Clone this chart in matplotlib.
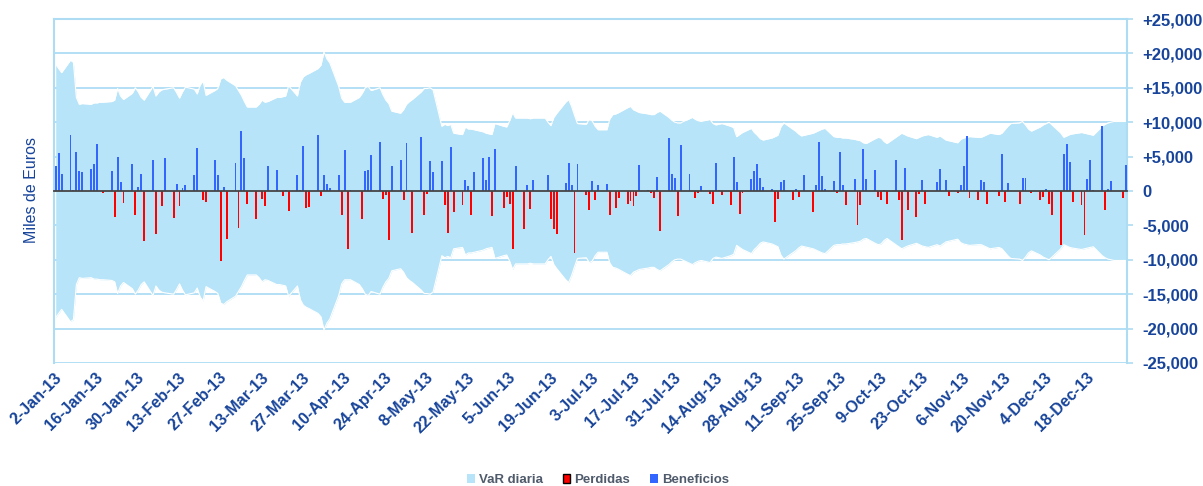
import matplotlib
matplotlib.use('Agg')
import matplotlib.pyplot as plt
import matplotlib.dates as mdates
from matplotlib.patches import Patch
from matplotlib.ticker import FuncFormatter
import numpy as np
import pandas as pd

plt.rcParams['font.family'] = ['Liberation Sans', 'DejaVu Sans']

# dias habiles de 2013 (eje de fechas, fines de semana sin barra)
fechas = pd.bdate_range('2013-01-02', '2013-12-31')
etiquetas = pd.date_range('2013-01-02', '2013-12-18', freq='14D')

# VaR diario (miles de euros), una fila = 2 semanas desde cada etiqueta
var_diaria = [
    18400, 17800, 17200, 19000, 18700, 13600, 12600, 12700, 12600, 12800,  # 2-Jan
    12800, 12900, 12900, 13000, 13200, 14900, 13800, 13300, 14200, 15000,  # 16-Jan
    14400, 13600, 13200, 15200, 13800, 14400, 14700, 14800, 15000, 14300,  # 30-Jan
    13500, 14400, 15100, 14800, 14100, 15400, 16000, 13900, 14600, 14900,  # 13-Feb
    16300, 16500, 16100, 15300, 14600, 13900, 13000, 12200, 12200, 12600,  # 27-Feb
    13200, 12900, 13000, 13600, 13600, 13700, 13800, 15300, 13800, 15800,  # 13-Mar
    16600, 16900, 17100, 17800, 18300, 20200, 19200, 18600, 15200, 13500,  # 27-Mar
    12900, 12900, 12900, 13600, 14200, 15000, 15200, 14600, 15000, 14000,  # 10-Apr
    13200, 12700, 11600, 11300, 11800, 12600, 13000, 13300, 14400, 14900,  # 24-Apr
    14900, 15000, 14700, 9400, 9700, 9500, 9700, 8400, 8200, 9300,  # 8-May
    9000, 9000, 8900, 8600, 8400, 8300, 8200, 9800, 9400, 9300,  # 22-May
    10200, 11400, 10600, 10600, 10600, 10500, 10600, 10600, 10600, 10000,  # 5-Jun
    9500, 10700, 11300, 12900, 13300, 12300, 11000, 9800, 9700, 10400,  # 19-Jun
    10200, 9400, 8900, 8900, 10500, 11100, 11200, 11400, 12100, 12300,  # 3-Jul
    11800, 11600, 11400, 11200, 11100, 11100, 11400, 11600, 10700, 10300,  # 17-Jul
    10000, 9900, 9900, 10500, 10700, 10400, 10200, 10100, 10400, 9800,  # 31-Jul
    9600, 9700, 9800, 9400, 9200, 7900, 8200, 8500, 9100, 8500,  # 14-Aug
    8100, 7600, 7400, 7700, 7900, 8100, 9300, 9900, 9000, 8700,  # 28-Aug
    8300, 8000, 8100, 8400, 8600, 8800, 9000, 9100, 7900, 7800,  # 11-Sep
    7800, 7700, 7700, 7500, 7400, 7300, 7000, 6900, 7600, 7800,  # 25-Sep
    7700, 7200, 6900, 7800, 8100, 8400, 8200, 8000, 7600, 7800,  # 9-Oct
    8000, 8100, 8200, 7800, 8000, 7700, 7400, 7300, 7000, 7500,  # 23-Oct
    7700, 7800, 7900, 7800, 7800, 8000, 8200, 8400, 8200, 8400,  # 6-Nov
    8900, 9400, 9800, 9900, 10100, 9600, 9000, 8700, 9300, 9600,  # 20-Nov
    9800, 10000, 9600, 8400, 7800, 8000, 8200, 8300, 8500, 8400,  # 4-Dec
    8300, 8200, 8100, 9400, 9700, 9900, 10000, 10100, 10100, 10100,  # 18-Dec
]

# resultado diario (miles de euros)
resultado = [
    3630, 5570, 2420, 8130, 150, 5660, 2900, 2760, 3240, 3920,
    6870, 0, -290, 2900, -3780, 4940, 1300, -1690, 3920, -3530,
    580, 2470, -7310, 4450, -6200, 0, -2130, 4840, -3870, 1020,
    -2130, 440, 870, 2320, 6240, 0, -1360, -1550, 4500, 2370,
    -10200, 580, -6920, 4070, -5320, 8760, 4840, -1840, -4070, 0,
    -1110, -2230, 3630, 3050, 0, -680, 200, -2950, 2320, 200,
    6490, -2420, -2320, 8130, -770, 2320, 1060, 480, 2370, -3530,
    6000, -8370, 190, 0, -4020, 2950, 3100, 5280, 7160, -1110,
    -630, -7160, 3680, 4500, -1260, 7020, 0, -6100, 7840, -3530,
    -480, 4400, 2810, 4400, -2080, -6100, 6440, -3100, -2080, 1650,
    770, -3440, 2810, 4840, 1650, 4990, -3680, 6150, -2420, -870,
    -1840, -8370, 3680, -5570, 920, -2570, 1650, 0, 0, 2370,
    -4020, -5470, -6290, 1210, 4110, 920, -9000, 3970, -630, -2710,
    1500, -1260, 920, 1060, -3530, 0, -2470, -1060, -1840, -1450,
    -2230, -770, 3820, 190, -290, -1060, 2080, -5860, 7740, 2520,
    1940, -3680, 6730, 2520, 0, -970, -290, 770, -480, -1840,
    4110, 190, -580, -1980, 4990, 1360, -3390, -290, 1790, 2950,
    3970, 1940, 630, 290, -4550, -1110, 1360, 1650, -1360, 290,
    -870, 0, 2370, -3100, 920, 7160, 2230, 340, 1500, -290,
    5710, 920, -2080, 1790, -4990, -2080, 6150, 1790, 3050, -870,
    -1260, 190, -1840, 4550, -1260, -7160, 3390, -2810, -3780, -480,
    1650, -1940, 0, 1360, 3240, 0, 1650, -770, -290, 920,
    3680, 7990, -1060, -1360, 1650, 1360, -1940, 0, -770, 5420,
    -1650, 1210, 0, -1840, 1940, 1940, 0, -290, -1360, -870,
    290, -1840, -3530, -7890, 5420, 6870, 4260, -1650, -2080, -6390,
    1790, 4450, 190, 9440, -2810, 340, 1500, 0, -970, 3820,
]

azul_var = '#b7e4f8'
azul_rejilla = '#aedcf3'
azul_texto = '#17449a'
rojo = '#ff0000'
azul_barra = '#3366ff'

x = mdates.date2num(fechas) + 0.5
var = np.array(var_diaria)
res = np.array(resultado)
pos = res > 0
neg = res < 0

fig = plt.figure(figsize=(12.03, 4.86), dpi=100)
ax = fig.add_axes([0.0451, 0.2531, 0.8919, 0.7078])

ax.fill_between(x, -var, var, color=azul_var, lw=0, zorder=1)
ax.plot(x, var, color='white', lw=0.8, zorder=1.5)
ax.plot(x, -var, color='white', lw=0.8, zorder=1.5)
ax.bar(x[neg], res[neg], width=0.65, color=rojo, lw=0, zorder=3)
ax.bar(x[pos], res[pos], width=0.65, color=azul_barra, lw=0, zorder=3)

ax.set_xlim(mdates.date2num(pd.Timestamp('2013-01-02')), mdates.date2num(pd.Timestamp('2014-01-01')))
ax.set_ylim(-25000, 25000)

# eje Y a la derecha
ax.yaxis.tick_right()
ax.set_yticks(np.arange(-25000, 25001, 5000))
ax.yaxis.set_major_formatter(FuncFormatter(lambda v, p: '0' if v == 0 else '{:+,.0f}'.format(v)))
ax.tick_params(axis='y', direction='out', length=4, width=1.2, color=azul_rejilla, pad=7,
               labelsize=12, labelcolor=azul_texto)
for t in ax.get_yticklabels():
    t.set_fontweight('bold')
ax.yaxis.grid(True, color=azul_rejilla, lw=1.3, zorder=0)
ax.set_axisbelow(True)

for s in ['left', 'right', 'top']:
    ax.spines[s].set_color(azul_rejilla)
    ax.spines[s].set_linewidth(1.5)

# eje de categorias cruzando en cero
tick_x = mdates.date2num(etiquetas)
ax.spines['bottom'].set_position(('data', 0))
ax.spines['bottom'].set_color('#454545')
ax.spines['bottom'].set_linewidth(1.3)
ax.spines['bottom'].set_zorder(4)
ax.set_xticks(tick_x)
ax.tick_params(axis='x', direction='out', length=5, width=1.2, color='#454545', labelbottom=False)

sec = ax.secondary_xaxis('bottom')
sec.spines['bottom'].set_visible(False)
sec.set_xticks(tick_x, labels=['{}-{}-13'.format(d.day, d.strftime('%b')) for d in etiquetas])
sec.tick_params(axis='x', length=0, pad=5, labelsize=11.5, labelcolor=azul_texto)
for t in sec.get_xticklabels():
    t.set_rotation(45)
    t.set_ha('right')
    t.set_va('top')
    t.set_rotation_mode('anchor')
    t.set_fontweight('bold')

fig.text(0.0266, 0.609, 'Miles de Euros', rotation=90, ha='center', va='center',
         fontsize=11.5, color=azul_texto)

handles = [Patch(facecolor=azul_var, edgecolor='none'),
           Patch(facecolor=rojo, edgecolor='black', lw=1),
           Patch(facecolor=azul_barra, edgecolor='none')]
fig.legend(handles, ['VaR diaria', 'Perdidas', 'Beneficios'], loc='lower center',
           bbox_to_anchor=(0.497, -0.025), ncol=3, frameon=False,
           handlelength=0.6, handleheight=0.6, handletextpad=0.3, columnspacing=1.5,
           labelcolor='#4f5a6b', prop={'weight': 'bold', 'size': 9.5})

fig.savefig('out.png', dpi=100)
